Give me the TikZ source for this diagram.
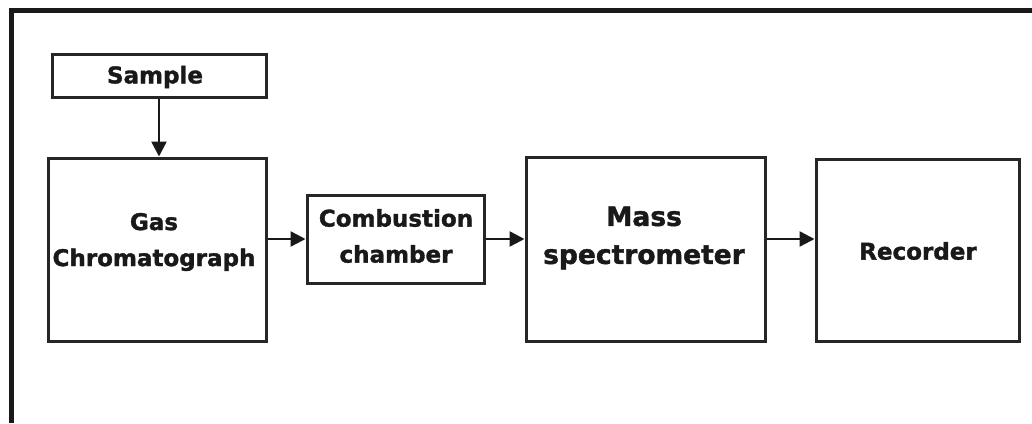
\documentclass[tikz,border=0pt]{standalone}
\usepackage{fontspec}
\setmainfont{DejaVu Sans}[BoldFeatures={FakeBold=1.5}]
\usetikzlibrary{arrows.meta}
\begin{document}
\begin{tikzpicture}[x=1pt,y=-1pt,
  box/.style={draw=black!85,line width=3pt,minimum width=0pt,inner sep=0pt,fill=white},
  lbl/.style={font=\bfseries\fontsize{23}{36}\selectfont,align=center,text=black!90},
  arr/.style={line width=2.4pt,draw=black!90,-{Triangle[length=15pt,width=15pt]}}]
\useasboundingbox (0,0) rectangle (1032,423);
\fill[white] (0,0) rectangle (1032,423);
\draw[line width=4.5pt,black!90] (11.5,423) -- (11.5,10.5) -- (1032,10.5);
% boxes
\node[box,minimum width=214pt,minimum height=43pt] (sample) at (159,75.5) {};
\node[box,minimum width=218pt,minimum height=183pt] (gc) at (157,249.5) {};
\node[box,minimum width=177pt,minimum height=88pt] (comb) at (395.5,239) {};
\node[box,minimum width=239pt,minimum height=184pt] (mass) at (645.5,249) {};
\node[box,minimum width=203pt,minimum height=182pt] (rec) at (917.5,250) {};
% labels
\node[lbl] (tsample) at (155,77) {Sample};
\node[lbl] (tgc) at (154,242) {Gas\\Chromatograph};
\node[lbl] (tcomb) at (396,236) {Combustion\\chamber};
\node[lbl,font=\bfseries\fontsize{26.5}{38}\selectfont] (tmass) at (644,238) {Mass\\spectrometer};
\node[lbl] (trec) at (918,251) {Recorder};
% arrows
\draw[arr] (sample.south) -- (sample.south |- gc.north);
\draw[arr] (gc.east |- comb.west) -- (comb.west);
\draw[arr] (comb.east) -- (mass.west |- comb.east);
\draw[arr] (mass.east |- comb.east) -- (rec.west |- comb.east);
\end{tikzpicture}
\end{document}
